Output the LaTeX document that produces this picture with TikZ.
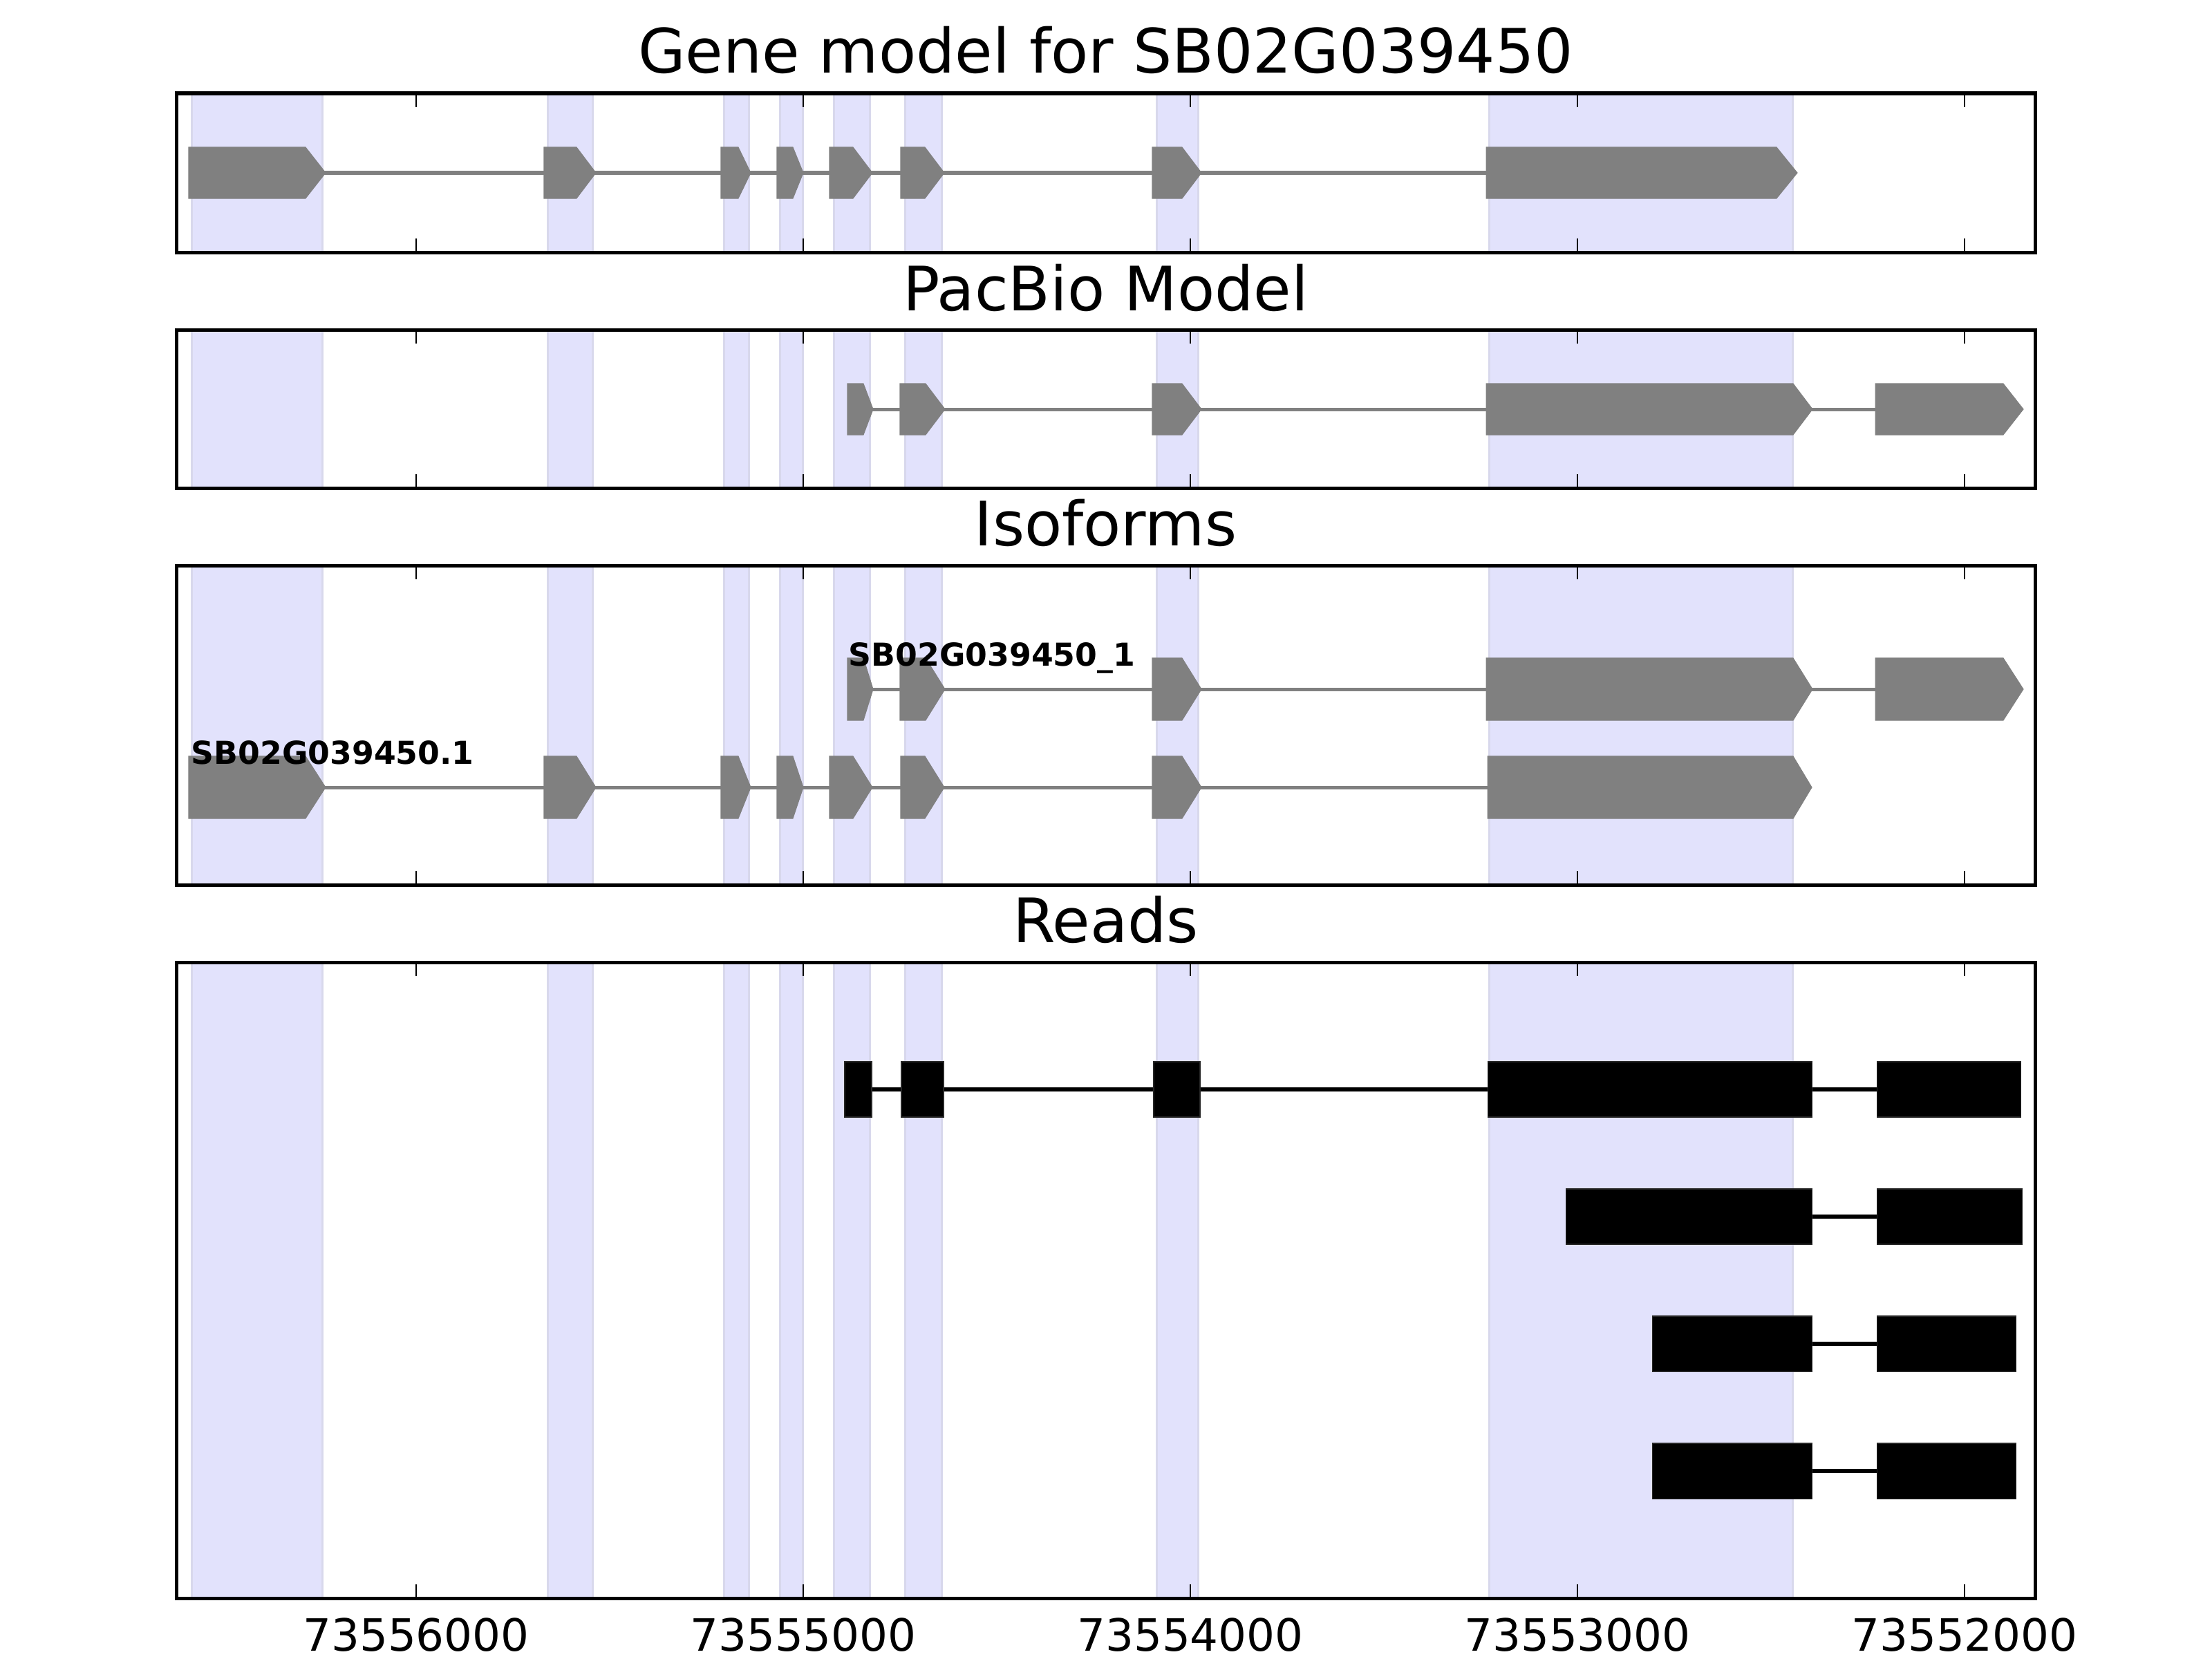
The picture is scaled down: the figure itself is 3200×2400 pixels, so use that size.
\documentclass[tikz,border=0pt]{standalone}
\usepackage{fontspec}
\setmainfont{DejaVu Sans}
\definecolor{spanfill}{RGB}{226,226,252}
\definecolor{spanedge}{RGB}{216,216,236}
\definecolor{exongray}{RGB}{128,128,128}
\tikzstyle{frame} = [line width=0.05cm]
\tikzstyle{band} = [fill=spanfill, draw=spanedge, line width=0.03cm]
\tikzstyle{exon} = [fill=exongray, draw=exongray, line width=0.3pt]
\tikzstyle{intron} = [draw=exongray, line width=0.05cm]
\tikzstyle{readbox} = [fill=black, draw=black!85, line width=0.3pt]
\tikzstyle{readline} = [draw=black, line width=0.06cm]
\tikzstyle{tickmark} = [line width=0.02cm]

\begin{document}
\begin{tikzpicture}[x=0.01cm, y=-0.01cm,
        paneltitle/.style={anchor=base, inner sep=0pt, font=\fontsize{25.2}{30}\selectfont},
        ticklabel/.style={anchor=base, inner sep=0pt, font=\fontsize{18.3}{22}\selectfont},
        isolabel/.style={anchor=base west, inner sep=0pt, font=\bfseries\fontsize{13}{16}\selectfont}]

        \useasboundingbox (0,0) rectangle (3200,2400);

        % shaded exon spans, one panel at a time
        \foreach \top/\bot in {135/365, 477/706, 818/1280, 1392/2312} {
          \foreach \l/\r in {277/466, 792/857, 1047/1083, 1128/1161, 1206/1258, 1309/1362, 1673/1733, 2154/2593}
            \filldraw[band] (\l,\top) rectangle (\r,\bot);
        }

        % gene model
        \draw[intron] (273,250) -- (2150,250);
        \foreach \a/\b/\c in {273/442/471, 787/834/862, 1043/1068/1086, 1124/1147/1162,
                              1200/1234/1262, 1303/1338/1366, 1667/1710/1738, 2150/2570/2600}
          \fill[exon] (\a,213) -- (\b,213) -- (\c,250) -- (\b,287) -- (\a,287) -- cycle;

        % pacbio model
        \draw[intron] (1226,592) -- (2713,592);
        \foreach \a/\b/\c in {1226/1249/1263, 1302/1339/1367, 1667/1710/1738, 2150/2594/2622, 2713/2898/2927}
          \fill[exon] (\a,555) -- (\b,555) -- (\c,592) -- (\b,629) -- (\a,629) -- cycle;

        % isoforms
        \draw[intron] (1226,997) -- (2713,997);
        \foreach \a/\b/\c in {1226/1249/1263, 1302/1339/1367, 1667/1710/1738, 2150/2594/2622, 2713/2898/2927}
          \fill[exon] (\a,952) -- (\b,952) -- (\c,997) -- (\b,1042) -- (\a,1042) -- cycle;
        \draw[intron] (273,1139) -- (2152,1139);
        \foreach \a/\b/\c in {273/442/471, 787/834/862, 1043/1068/1086, 1124/1147/1162,
                              1200/1234/1262, 1303/1338/1366, 1667/1710/1738, 2152/2594/2621}
          \fill[exon] (\a,1094) -- (\b,1094) -- (\c,1139) -- (\b,1184) -- (\a,1184) -- cycle;
        \node[isolabel] (isoA) at (1227,963) {SB02G039450\_1};
        \node[isolabel] (isoB) at (276,1105) {SB02G039450.1};

        % reads
        \draw[readline] (1222,1576) -- (2924,1576);
        \foreach \a/\b in {1222/1261, 1304/1365, 1669/1736, 2152/2621, 2715/2923}
          \filldraw[readbox] (\a,1536) rectangle (\b,1616);
        \draw[readline] (2265,1760) -- (2925,1760);
        \foreach \a/\b in {2265/2621, 2715/2925}
          \filldraw[readbox] (\a,1720) rectangle (\b,1800);
        \foreach \y in {1944, 2128} {
          \draw[readline] (2390,\y) -- (2916,\y);
          \foreach \a/\b in {2390/2621, 2715/2916}
            \filldraw[readbox] (\a,\y-40) rectangle (\b,\y+40);
        }

        % frames and ticks
        \foreach \top/\bot in {135/365, 477/706, 818/1280, 1392/2312} {
          \foreach \x in {602, 1162, 1722, 2282, 2842} {
            \draw[tickmark] (\x,\top) -- (\x,\top+20);
            \draw[tickmark] (\x,\bot) -- (\x,\bot-20);
          }
          \draw[frame] (255,\top) rectangle (2944,\bot);
        }

        % titles
        \node[paneltitle] (genetitle) at (1599.5,106) {Gene model for SB02G039450};
        \node[paneltitle] (pacbiotitle) at (1599.5,449) {PacBio Model};
        \node[paneltitle] (isotitle) at (1599.5,789) {Isoforms};
        \node[paneltitle] (readstitle) at (1599.5,1363) {Reads};

        \foreach \x/\lab in {602/73556000, 1162/73555000, 1722/73554000, 2282/73553000, 2842/73552000}
          \node[ticklabel] (tick\lab) at (\x,2388) {\lab};

      \end{tikzpicture}
\end{document}
